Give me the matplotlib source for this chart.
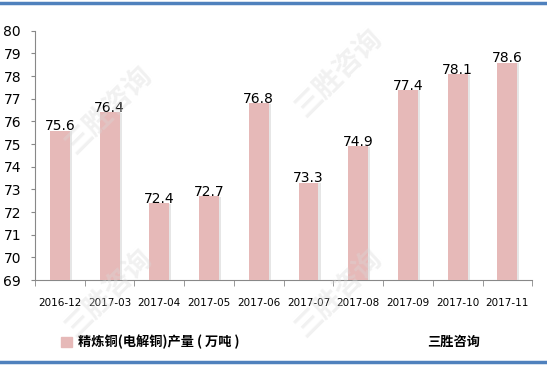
import matplotlib.pyplot as plt
import matplotlib.patheffects as pe
from matplotlib.patches import Patch
from matplotlib.lines import Line2D

plt.rcParams['font.family'] = ['Noto Sans CJK SC', 'DejaVu Sans']

# 数据
months = ['2016-12', '2017-03', '2017-04', '2017-05', '2017-06',
          '2017-07', '2017-08', '2017-09', '2017-10', '2017-11']
output = [75.6, 76.4, 72.4, 72.7, 76.8, 73.3, 74.9, 77.4, 78.1, 78.6]
series_name = '精炼铜(电解铜)产量 ( 万吨 )'
source = '三胜咨询'

bar_color = '#E6B9B8'

fig = plt.figure(figsize=(5.47, 3.67), dpi=100)
ax = fig.add_axes([0.064, 0.237, 0.909, 0.679])

x = range(len(months))
bars = ax.bar(x, output, width=0.4, color=bar_color, zorder=3)
for b in bars:
    b.set_path_effects([pe.SimplePatchShadow(offset=(1.5, -0.5), shadow_rgbFace='#cfcfcf', alpha=0.5),
                        pe.Normal()])

for i, v in enumerate(output):
    ax.annotate(f'{v}', (i, v), xytext=(0, -2), textcoords='offset points',
                ha='center', va='bottom', fontsize=10, family='DejaVu Sans', zorder=4)

ax.set_xlim(-0.5, len(months) - 0.5)
ax.set_ylim(69, 80)
ax.set_yticks(range(69, 81))
ax.set_xticks(list(x))
ax.set_xticklabels(months, fontsize=7.5, family='DejaVu Sans')
ax.set_xticks([i - 0.5 for i in range(len(months) + 1)], minor=True)
ax.tick_params(axis='x', which='major', length=0, pad=13)
ax.tick_params(axis='x', which='minor', length=4, color='#888888')
ax.tick_params(axis='y', length=3, color='#888888', pad=7, labelsize=10)
for lab in ax.get_yticklabels():
    lab.set_family('DejaVu Sans')

for s in ['top', 'right']:
    ax.spines[s].set_visible(False)
for s in ['left', 'bottom']:
    ax.spines[s].set_color('#888888')

# 水印
for (wx, wy) in [(0.2, 0.7), (0.62, 0.8), (0.2, 0.2), (0.62, 0.2)]:
    fig.text(wx, wy, '三胜咨询', fontsize=20, color='#d9d9d9', alpha=0.35,
             rotation=45, ha='center', va='center', zorder=0, weight='bold')

# 图例与来源
fig.legend(handles=[Patch(color=bar_color)], labels=[series_name],
           loc='center left', bbox_to_anchor=(0.09, 0.068), frameon=False,
           handlelength=0.8, handleheight=0.8, handletextpad=0.5,
           prop={'family': ['Noto Sans CJK SC', 'DejaVu Sans'], 'weight': 'bold', 'size': 9.5})
fig.text(0.78, 0.068, source, fontsize=9.5, weight='bold', va='center')

# 上下蓝色边线
fig.add_artist(Line2D([0, 1], [0.992, 0.992], color='#4F81BD', lw=2.5, transform=fig.transFigure))
fig.add_artist(Line2D([0, 1], [0.013, 0.013], color='#4F81BD', lw=2.5, transform=fig.transFigure))

fig.savefig('out.png', dpi=100)
